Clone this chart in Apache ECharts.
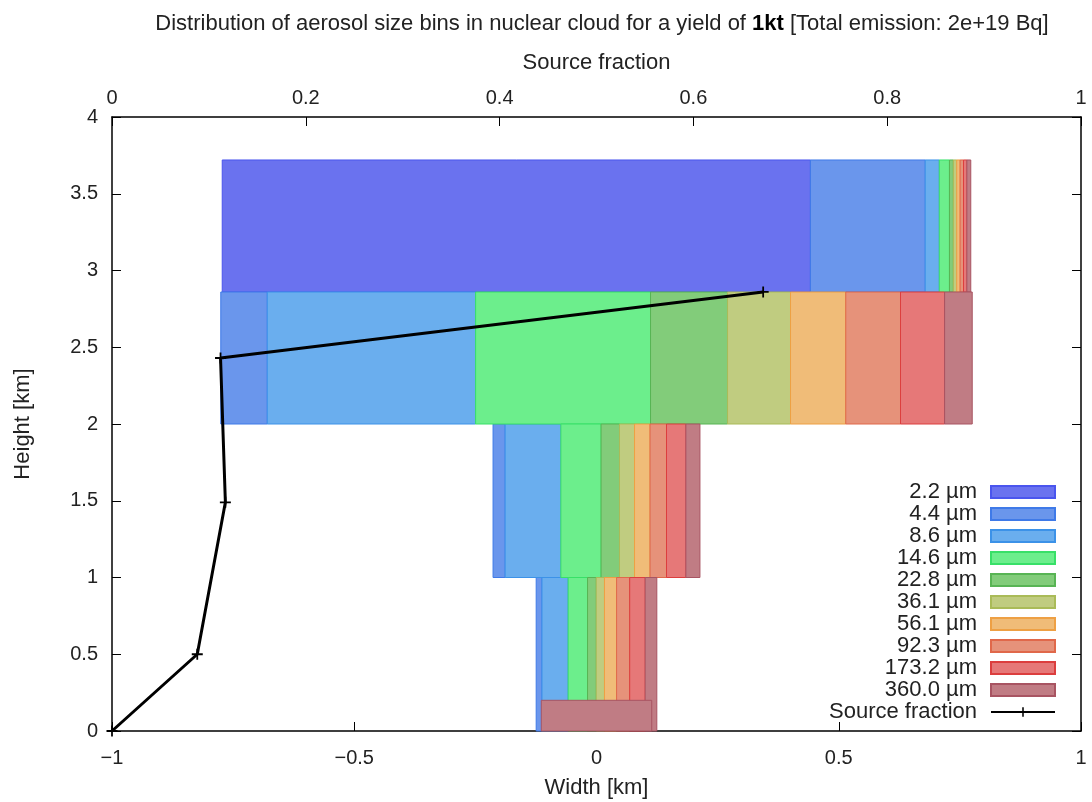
<!DOCTYPE html>
<html>
<head>
<meta charset="utf-8">
<script src="https://cdn.jsdelivr.net/npm/echarts@6/dist/echarts.min.js"></script>
<style>
  html, body { margin: 0; padding: 0; background: #fff; }
  #chart { width: 1092px; height: 802px; }
</style>
</head>
<body>
<div id="chart"></div>
<script>
// size bins (legend names)
const sizeBins = ['2.2 µm', '4.4 µm', '8.6 µm', '14.6 µm', '22.8 µm', '36.1 µm', '56.1 µm', '92.3 µm', '173.2 µm', '360.0 µm']

// cloud layers: bottom / top height [km]
const layerBottom = [2.86, 2.0, 1.0, 0.0, 0.0]
const layerTop = [3.72, 2.86, 2.0, 1.0, 0.2]

// width [km] taken by each size bin in each layer (layer is centred on 0)
const widthsA = [1.214, 0.237, 0.029, 0.021, 0.008, 0.007, 0.007, 0.007, 0.007, 0.008]
const widthsB = [0, 0.096, 0.430, 0.361, 0.159, 0.130, 0.114, 0.113, 0.091, 0.057]
const widthsC = [0, 0.025, 0.115, 0.083, 0.038, 0.031, 0.032, 0.034, 0.040, 0.029]
const widthsD = [0, 0.012, 0.054, 0.040, 0.018, 0.017, 0.025, 0.027, 0.032, 0.024]
const widthsE = [0, 0, 0, 0, 0, 0, 0, 0, 0, 0.228]
const layerWidths = [widthsA, widthsB, widthsC, widthsD, widthsE]

// source fraction per height
const srcFraction = [0, 0.088, 0.117, 0.112, 0.672]
const srcHeight = [0, 0.5, 1.49, 2.43, 2.86]

// styles
const binFill = ['#6a72ef', '#6a96ec', '#6aaeee', '#6cee8c', '#82cc7a', '#c0cc80', '#f0bc78', '#e6927a', '#e67878', '#c07c84']
const binLine = ['#4a55ee', '#3f7ae8', '#3c92e8', '#38e068', '#58b454', '#aabb58', '#eea044', '#e0684a', '#dc3e3e', '#a85462']
const FONT = 'Liberation Sans, Arial, sans-serif'

// build box list per bin: [x0, x1, y0, y1]
const buildBoxes = () => {
  const boxes = sizeBins.map(() => [])
  layerWidths.forEach((w, li) => {
    const total = w.reduce((a, b) => a + b, 0)
    let x = -total / 2
    w.forEach((v, bi) => {
      if (v > 0) {
        boxes[bi].push([x, x + v, layerBottom[li], layerTop[li]])
      }
      x += v
    })
  })
  return boxes
}

const renderBox = (params, api) => {
  const p0 = api.coord([api.value(0), api.value(3)])
  const p1 = api.coord([api.value(1), api.value(2)])
  return {
    type: 'rect',
    shape: { x: p0[0], y: p0[1], width: p1[0] - p0[0], height: p1[1] - p0[1] },
    style: {
      fill: binFill[params.seriesIndex],
      stroke: binLine[params.seriesIndex],
      lineWidth: 1
    }
  }
}

const boxes = buildBoxes()
const series = sizeBins.map((name, i) => ({
  name: name,
  type: 'custom',
  xAxisIndex: 0,
  yAxisIndex: 0,
  renderItem: renderBox,
  encode: { x: [0, 1], y: [2, 3] },
  itemStyle: { color: binFill[i], borderColor: binLine[i], borderWidth: 1 },
  data: boxes[i],
  z: 2
}))

series.push({
  name: 'Source fraction',
  type: 'line',
  xAxisIndex: 1,
  yAxisIndex: 0,
  data: srcFraction.map((f, i) => [f, srcHeight[i]]),
  symbol: 'path://M4.2,0H5.8V4.2H10V5.8H5.8V10H4.2V5.8H0V4.2H4.2Z',
  symbolSize: 11,
  itemStyle: { color: '#000' },
  lineStyle: { color: '#000', width: 3 },
  z: 5
})

const tickStyle = { show: true, inside: true, length: 9, lineStyle: { color: '#000', width: 1 } }
const axisLine = { show: true, onZero: false, lineStyle: { color: '#000', width: 1.5 } }
const label = { color: '#222', fontSize: 20, fontFamily: FONT }
const nameStyle = { color: '#222', fontSize: 22, fontFamily: FONT }

const option = {
  animation: false,
  backgroundColor: '#fff',
  title: {
    text: 'Distribution of aerosol size bins in nuclear cloud for a yield of {b|1kt} [Total emission: 2e+19 Bq]',
    left: 597,
    top: 8,
    textAlign: 'center',
    textStyle: {
      fontSize: 22, fontWeight: 'normal', color: '#222', fontFamily: FONT,
      rich: { b: { fontSize: 22, fontWeight: 'bold', color: '#000', fontFamily: FONT } }
    }
  },
  grid: { left: 112, right: 11, top: 117, bottom: 71, outerBoundsMode: 'none' },
  legend: {
    orient: 'vertical',
    right: 31,
    top: 476,
    align: 'right',
    itemWidth: 64,
    itemHeight: 12,
    itemGap: 0,
    data: sizeBins.map(n => ({ name: n, icon: 'rect' })).concat([{ name: 'Source fraction' }]),
    textStyle: { fontSize: 22, lineHeight: 22, color: '#222', fontFamily: FONT, padding: [0, 9, 0, 0] }
  },
  xAxis: [
    {
      type: 'value', position: 'bottom', min: -1, max: 1, interval: 0.5,
      name: 'Width [km]', nameLocation: 'middle', nameGap: 46, nameTextStyle: nameStyle,
      axisLine: axisLine, axisTick: tickStyle, splitLine: { show: false },
      axisLabel: Object.assign({ margin: 17, formatter: v => (v < 0 ? '\u2212' + (-v) : '' + v) }, label)
    },
    {
      type: 'value', position: 'top', min: 0, max: 1, interval: 0.2,
      name: 'Source fraction', nameLocation: 'middle', nameGap: 43, nameTextStyle: nameStyle,
      axisLine: axisLine, axisTick: tickStyle, splitLine: { show: false },
      axisLabel: Object.assign({ margin: 9 }, label)
    }
  ],
  yAxis: [
    {
      type: 'value', position: 'left', min: 0, max: 4, interval: 0.5,
      name: 'Height [km]', nameLocation: 'middle', nameGap: 78, nameRotate: 90, nameTextStyle: nameStyle,
      axisLine: axisLine, axisTick: tickStyle, splitLine: { show: false },
      axisLabel: Object.assign({ margin: 14 }, label)
    },
    {
      type: 'value', position: 'right', min: 0, max: 4, interval: 0.5,
      axisLine: axisLine, axisTick: tickStyle, splitLine: { show: false },
      axisLabel: { show: false }
    }
  ],
  series: series
}

const chart = echarts.init(document.getElementById('chart'))
chart.setOption(option)
</script>
</body>
</html>
